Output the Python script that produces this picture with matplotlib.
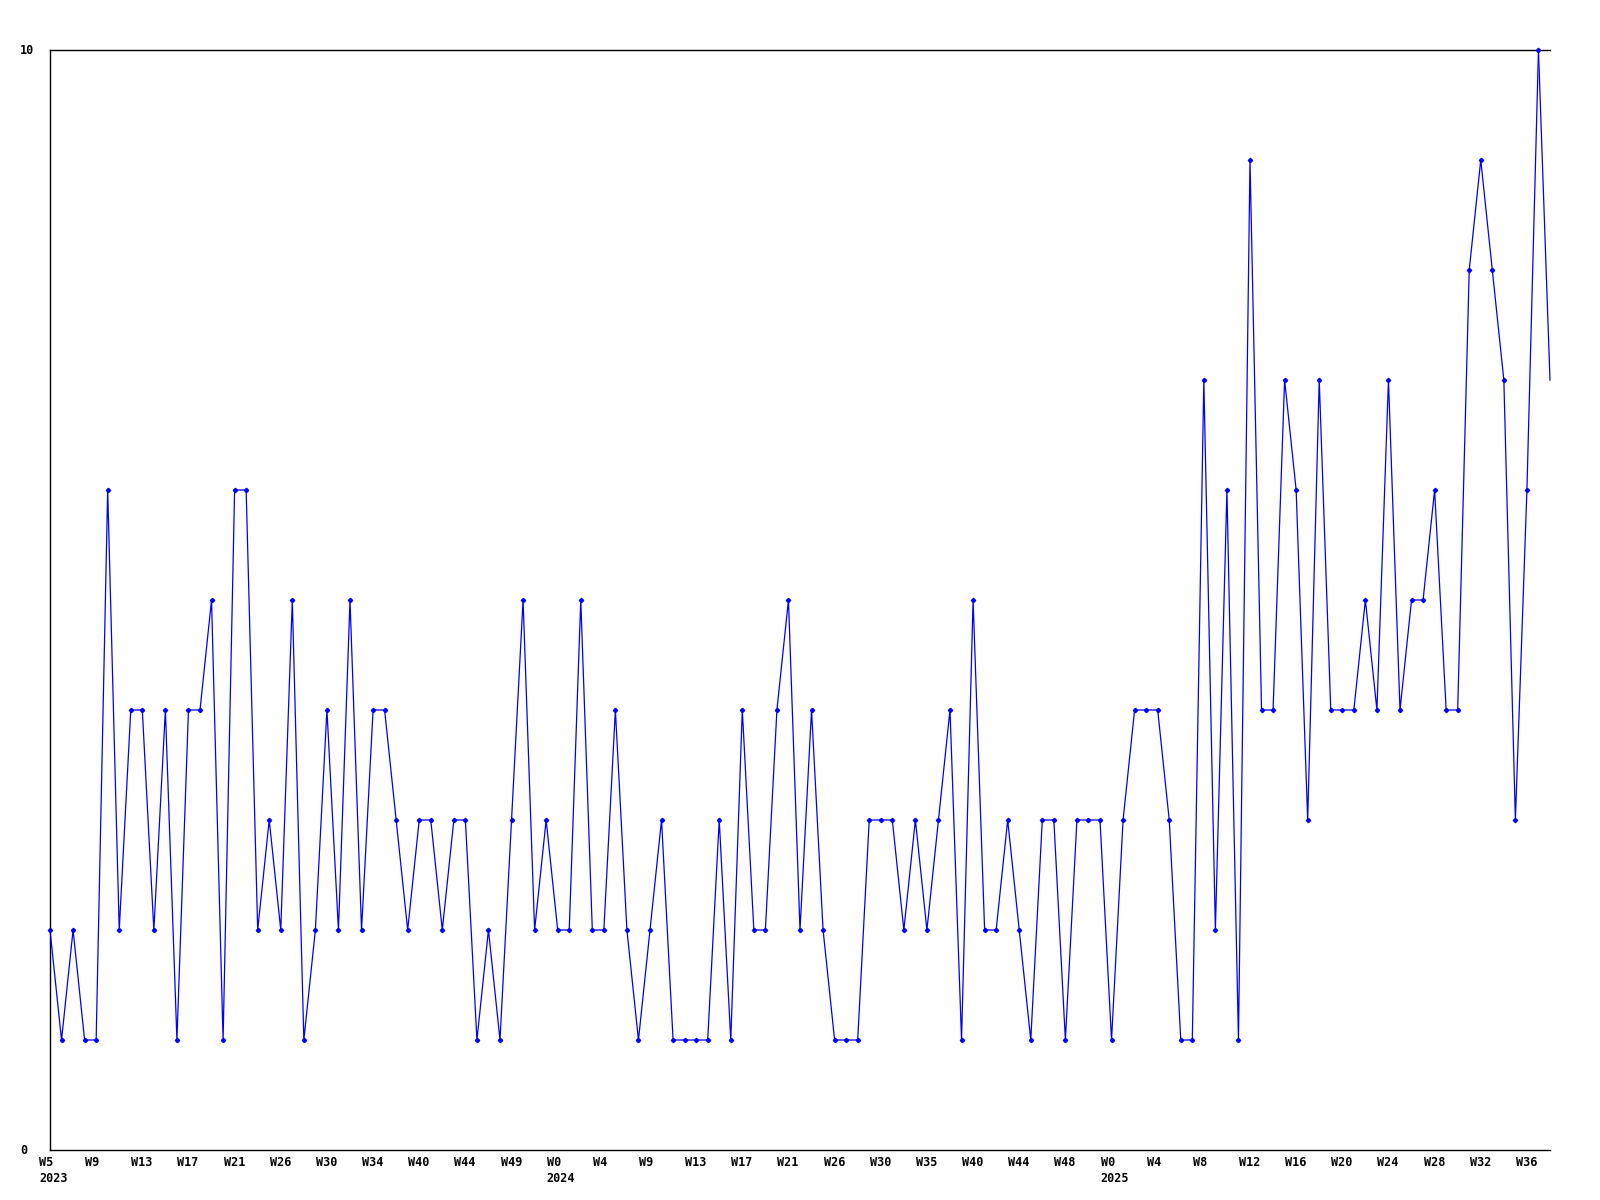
import matplotlib
matplotlib.use("Agg")
import matplotlib.pyplot as plt
import matplotlib.transforms as mtransforms

# weekly counts, 2023 W5 .. 2025 W37
values = [2, 1, 2, 1, 1, 6, 2, 4, 4, 2,
          4, 1, 4, 4, 5, 1, 6, 6, 2, 3,
          2, 5, 1, 2, 4, 2, 5, 2, 4, 4,
          3, 2, 3, 3, 2, 3, 3, 1, 2, 1,
          3, 5, 2, 3, 2, 2, 5, 2, 2, 4,
          2, 1, 2, 3, 1, 1, 1, 1, 3, 1,
          4, 2, 2, 4, 5, 2, 4, 2, 1, 1,
          1, 3, 3, 3, 2, 3, 2, 3, 4, 1,
          5, 2, 2, 3, 2, 1, 3, 3, 1, 3,
          3, 3, 1, 3, 4, 4, 4, 3, 1, 1,
          7, 2, 6, 1, 9, 4, 4, 7, 6, 3,
          7, 4, 4, 4, 5, 4, 7, 4, 5, 5,
          6, 4, 4, 8, 9, 8, 7, 3, 6, 10,
          7]

week_labels = ["W5", "W9", "W13", "W17", "W21", "W26", "W30", "W34", "W40", "W44", "W49",
               "W0", "W4", "W9", "W13", "W17", "W21", "W26", "W30", "W35", "W40", "W44", "W48",
               "W0", "W4", "W8", "W12", "W16", "W20", "W24", "W28", "W32", "W36"]
year_labels = {0: "2023", 11: "2024", 23: "2025"}
label_step = 4

y_ticks = [0, 10]

font = {"family": "DejaVu Sans Mono", "weight": "bold", "size": 8.5}

fig = plt.figure(figsize=(16, 12), dpi=100)
ax = fig.add_axes([50 / 1600, 50 / 1200, 1500 / 1600, 1100 / 1200])

x = list(range(len(values)))
ax.plot(x[:-1], values[:-1], color="#0000ff", linewidth=0.9, marker="D",
        markersize=2.2, clip_on=False, zorder=3)
# last segment runs to the edge without a marker
ax.plot(x[-2:], values[-2:], color="#0000ff", linewidth=0.9, clip_on=False, zorder=3)

ax.set_xlim(0, len(values) - 1)
ax.set_ylim(0, 10)

ax.spines["right"].set_visible(False)
for side in ["left", "top", "bottom"]:
    ax.spines[side].set_linewidth(1)

# x tick labels: week on top row, year below, left aligned a bit before the tick
ticks = list(range(0, len(values), label_step))
labels = []
for i, w in enumerate(week_labels):
    if i in year_labels:
        labels.append(w + "\n" + year_labels[i])
    else:
        labels.append(w)
ax.set_xticks(ticks)
ax.set_xticklabels(labels)
ax.tick_params(axis="x", length=0, pad=4)
offset = mtransforms.ScaledTranslation(-11 / 100, 0, fig.dpi_scale_trans)
for lab in ax.get_xticklabels():
    lab.set_horizontalalignment("left")
    lab.set_multialignment("left")
    lab.set_linespacing(1.3)
    lab.set_fontproperties(font)
    lab.set_transform(lab.get_transform() + offset)

# y labels at the left edge of the figure
ax.set_yticks([])
trans = mtransforms.blended_transform_factory(fig.transFigure, ax.transData)
for v in y_ticks:
    ax.text(20 / 1600, v, str(v), transform=trans, ha="left", va="center",
            **font)

fig.savefig("out.png", dpi=100)
